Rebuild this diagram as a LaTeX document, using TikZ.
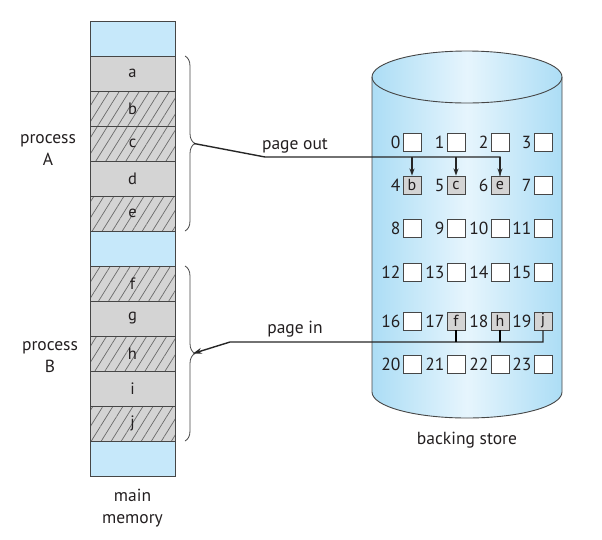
\documentclass[tikz,border=0pt]{standalone}
\usepackage{fontspec}
\setmainfont{PT Sans}
\usetikzlibrary{positioning, arrows.meta, patterns.meta, decorations.pathreplacing}

\definecolor{memblue}{RGB}{198,232,250}
\definecolor{cellgray}{RGB}{212,212,212}
\definecolor{hatchgray}{RGB}{105,105,105}
\definecolor{cylblue}{RGB}{172,221,245}
\definecolor{cylpale}{RGB}{230,245,253}
\definecolor{linegray}{RGB}{70,70,70}
\definecolor{ink}{RGB}{35,31,32}

\tikzset{
  cell/.style={draw=linegray, line width=0.9pt, minimum width=85pt, minimum height=35pt,
    inner sep=0pt, text=ink, font=\fontsize{16.5}{18}\selectfont},
  free/.style={cell, fill=memblue},
  page/.style={cell, fill=cellgray},
  swapped/.style={cell, preaction={fill=cellgray},
    pattern={Lines[angle=58, distance=8.5pt, line width=0.7pt]}, pattern color=hatchgray},
  slot/.style={draw=linegray, line width=0.9pt, fill=white, minimum size=18pt, inner sep=0pt,
    text=ink, font=\fontsize{16}{18}\selectfont},
  full/.style={slot, fill=cellgray},
  num/.style={anchor=east, inner sep=2pt, text=ink, font=\fontsize{17.5}{18}\selectfont},
  caption/.style={align=center, text=ink, font=\fontsize{17.5}{22}\selectfont, inner sep=0pt},
  brc/.style={decorate, decoration={brace, amplitude=10pt}, line width=0.8pt, draw=linegray},
  move/.style={line width=1.4pt, draw=black!85}
}

\begin{document}
\begin{tikzpicture}[x=1pt, y=-1pt]
\useasboundingbox (0,0) rectangle (602,539);

% main memory
\foreach \t/\s [count=\i from 0] in {/free, a/page, b/swapped, c/swapped, d/page, e/swapped,
    /free, f/swapped, g/page, h/swapped, i/page, j/swapped, /free}
  \node[\s] (m\i) at (132.5, 38.5+35*\i) {\t};
\node[caption] (mm) at (132.5, 508) {main\\memory};

\draw[brc] (185,56) -- (185,231) coordinate[midway] (bA);
\draw[brc] (185,266) -- (185,441) coordinate[midway] (bB);
\node[caption] (pA) at (48,150) {process\\A};
\node[caption] (pB) at (50,357) {process\\B};

% backing store
\shade[left color=cylblue, right color=cylblue, middle color=cylpale]
  (372,77) -- (372,392) arc[start angle=180, end angle=0, x radius=95, y radius=26]
  -- (562,77) -- cycle;
\shade[left color=cylblue, right color=cylblue, middle color=cylpale]
  (467,77) ellipse[x radius=95, y radius=26];
\draw[linegray, line width=0.9pt] (372,77) -- (372,392)
  arc[start angle=180, end angle=0, x radius=95, y radius=26] -- (562,77);
\draw[linegray, line width=0.9pt] (467,77) ellipse[x radius=95, y radius=26];
\node[caption] (bs) at (467,440) {backing store};

\foreach \r/\y in {0/142, 1/185, 2/228, 3/272, 4/321, 5/364}
  \foreach \c/\x in {0/412, 1/456, 2/500, 3/543} {
    \pgfmathtruncatemacro\n{4*\r+\c}
    \node[slot] (s\n) at (\x,\y) {};
    \node[num] (n\n) at (s\n.west) {\n};
  }
\foreach \n/\t in {4/b, 5/c, 6/e, 17/f, 18/h, 19/j}
  \node[full] (p\t) at (s\n) {\t};

% page out
\coordinate (outA) at ([xshift=9pt]bA);
\coordinate (kinkA) at (265,157);
\draw[move] (outA) -- (kinkA) -| (pe.north);
\draw[move, -{Stealth[length=7pt, width=5pt]}] (kinkA -| pe.north) -- (pe.north);
\draw[move, -{Stealth[length=7pt, width=5pt]}] (kinkA -| pb.north) -- (pb.north);
\draw[move, -{Stealth[length=7pt, width=5pt]}] (kinkA -| pc.north) -- (pc.north);
\node[caption, above=4pt of kinkA, xshift=30pt] (lout) {page out};

% page in
\coordinate (inB) at ([xshift=8pt]bB);
\coordinate (kinkB) at (230,342);
\draw[move, -{Stealth[length=9pt, width=6pt]}] (pj.south) |- (kinkB) -- (inB);
\draw[line width=2.6pt] (pf.south) -- (pf.south |- kinkB);
\draw[line width=2.6pt] (ph.south) -- (ph.south |- kinkB);
\node[caption, above=5pt of kinkB, xshift=65pt] (lin) {page in};
\end{tikzpicture}
\end{document}
